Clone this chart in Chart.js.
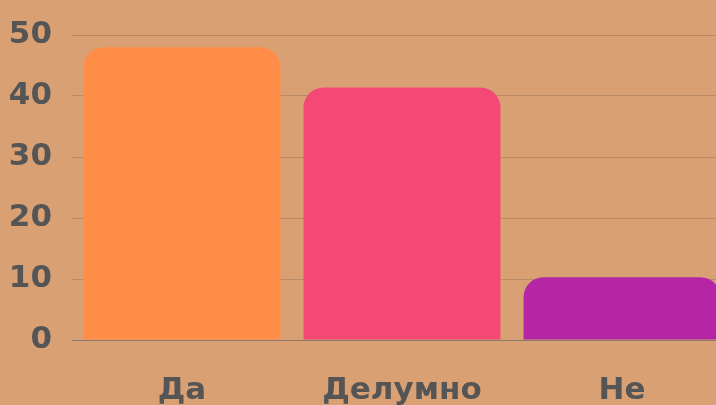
<!DOCTYPE html>
<html>
<head>
<meta charset="utf-8">
<script src="https://cdn.jsdelivr.net/npm/chart.js@4"></script>
<style>
  html, body { margin: 0; padding: 0; background: #D9A074; }
  #wrap { width: 716px; height: 405px; overflow: hidden; position: relative; }
  canvas { display: block; }
</style>
</head>
<body>
<div id="wrap"><canvas id="chart" width="740" height="405"></canvas></div>
<script>
// категории и вредности (проценти)
const categories = ["Да", "Делумно", "Не"];
const values = [48.0, 41.4, 10.3];
const barColors = ["#FF8C47", "#F54975", "#B526A6"];
const yTicks = [0, 10, 20, 30, 40, 50];

const labelFont = { family: "'DejaVu Sans', sans-serif", size: 31, weight: "bold" };

const ctx = document.getElementById("chart").getContext("2d");
new Chart(ctx, {
  type: "bar",
  data: {
    labels: categories,
    datasets: [
      {
        data: values,
        backgroundColor: barColors,
        borderWidth: 0,
        borderRadius: { topLeft: 20, topRight: 20, bottomLeft: 0, bottomRight: 0 },
        borderSkipped: "bottom",
        barPercentage: 0.895,
        categoryPercentage: 1,
      },
    ],
  },
  options: {
    responsive: false,
    animation: false,
    layout: { padding: { top: 35, right: 8, bottom: 0, left: 0 } },
    plugins: {
      legend: { display: false },
      tooltip: { enabled: false },
    },
    scales: {
      x: {
        grid: { display: false },
        border: { display: true, color: "#8C7B6C", width: 1 },
        ticks: { color: "#555555", font: labelFont, padding: 24 },
        afterFit: (axis) => {
          axis.height = 65;
          axis.paddingLeft = 0;
          axis.paddingRight = 0;
        },
      },
      y: {
        min: 0,
        max: 50,
        afterBuildTicks: (axis) => { axis.ticks = yTicks.map((v) => ({ value: v })); },
        grid: { color: "#B98A66", lineWidth: 1, drawTicks: false },
        border: { display: false },
        ticks: { color: "#555555", font: labelFont, padding: 20 },
        afterFit: (axis) => {
          axis.width = 72;
          axis.paddingTop = 0;
          axis.paddingBottom = 0;
        },
      },
    },
  },
});
</script>
</body>
</html>
